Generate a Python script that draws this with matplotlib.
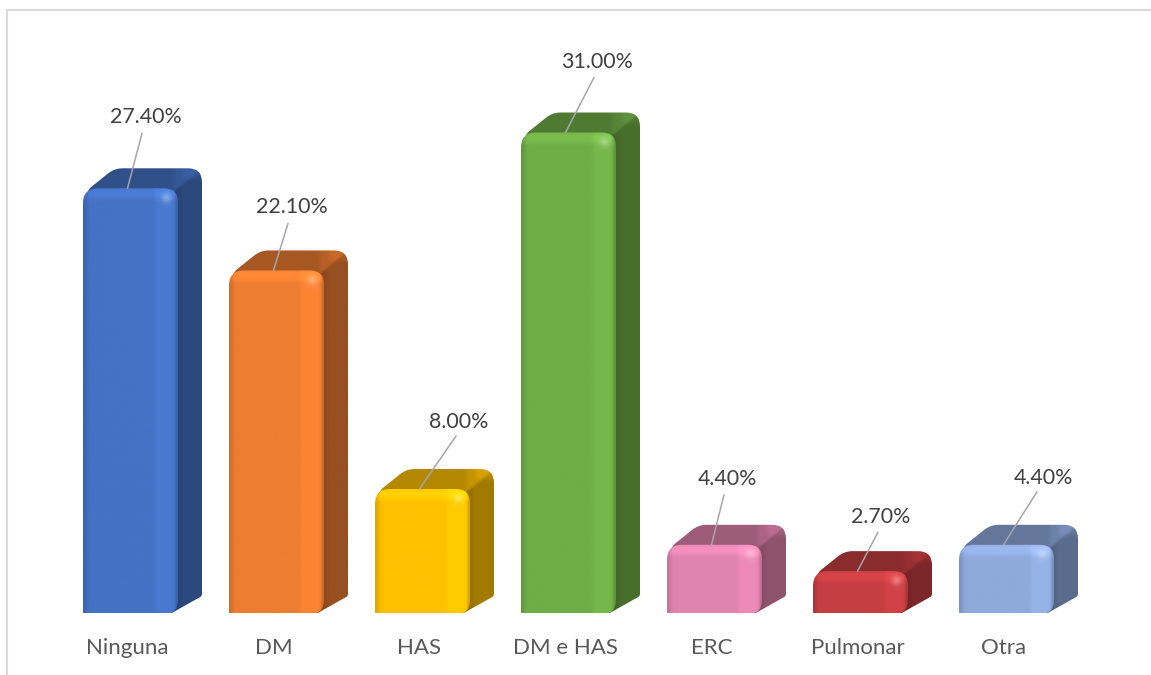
# -*- coding: utf-8 -*-
import numpy as np
import matplotlib
matplotlib.use('Agg')
import matplotlib.pyplot as plt
from matplotlib.colors import to_rgb
from matplotlib.lines import Line2D
from matplotlib.path import Path

categories = ['Ninguna', 'DM', 'HAS', 'DM e HAS', 'ERC', 'Pulmonar', 'Otra']
values = [27.4, 22.1, 8.0, 31.0, 4.4, 2.7, 4.4]
colors = ['#4472C4', '#ED7D31', '#FFC000', '#70AD47', '#E083AE', '#C43E42', '#8EA9DB']

# label position and leader line end, in pixels from the middle of the bar top
label_offsets = [(15.5, 71), (15.5, 63), (36.5, 67), (28.5, 70), (12.5, 66), (20.5, 54), (36.5, 67)]
line_ends = [(14.5, 55), (14.5, 47), (36.5, 53), (28.5, 55), (12.5, 50), (20.5, 39), (33.5, 53)]

W, H = 1151, 675
BASE = 613        # pixel row of value 0
PX_VAL = 15.5     # pixels per percentage point
PX_CAT = 146.0    # pixels per category
X0 = 130.5        # pixel column of first category
HALF = 47.5       # half width of the front face
DX, DY = 24, 20   # depth of the box


def rounded_path(pts, radii):
    # closed polygon with rounded corners, in pixels
    verts, codes = [], []
    n = len(pts)
    for k in range(n):
        p = np.array(pts[k], float)
        a = np.array(pts[k - 1], float)
        b = np.array(pts[(k + 1) % n], float)
        r = radii[k]
        u = (a - p) / np.linalg.norm(a - p)
        v = (b - p) / np.linalg.norm(b - p)
        verts += [p + u * r, p, p + v * r]
        codes += [Path.LINETO if k else Path.MOVETO, Path.CURVE3, Path.CURVE3]
    verts.append(verts[0])
    codes.append(Path.CLOSEPOLY)
    return np.array(verts), codes


def smooth(t):
    t = np.clip(t, 0, 1)
    return t * t * (3 - 2 * t)


def front_shade(x, y, h):
    # x from -HALF to HALF, y from 0 to h
    f = np.ones_like(x)
    f *= 0.88 + 0.12 * smooth((x + HALF) / 7)
    f *= 1 + 0.06 * smooth((x - (HALF - 26)) / 6) * (1 - smooth((x - (HALF - 7)) / 7))
    f *= 0.85 + 0.15 * smooth((HALF - x) / 4)
    f *= 1 + 0.09 * smooth((y - (h - 14)) / 8) * (1 - 0.35 * smooth((y - (h - 3)) / 3))
    spot = np.exp(-(((x - (HALF - 11)) / 5) ** 2 + ((y - (h - 9)) / 5) ** 2))
    return f, spot


def back_shade(x, y, h):
    # top face lighter than the side face
    d = (x - HALF) - (y - h) * DX / DY
    s = smooth((d + 3) / 6)
    f = 0.77 + (0.64 - 0.77) * s
    f = f + 0.07 * smooth((x - (HALF + 2)) / 8) * smooth((y - (h + 6)) / 8)
    f = f * (0.92 + 0.08 * smooth((x - HALF) / 7 + (1 - s)))
    return f


fig = plt.figure(figsize=(W / 100, H / 100), dpi=100)
ax = fig.add_axes([0, (H - BASE) / H, 1, BASE / H])
ax.set_facecolor('none')
fig.patch.set_facecolor('white')

for i, (val, col) in enumerate(zip(values, colors)):
    rgb = np.array(to_rgb(col))
    h = val * PX_VAL
    to_data = np.array([1 / PX_CAT, 1 / PX_VAL])

    # top and side faces behind the front one
    pts = [(HALF - 8, -1), (HALF + DX, DY - 3), (HALF + DX, h + DY), (-16, h + DY),
           (-41, h), (-HALF + 1, h - 10)]
    rad = [3, 2, 14, 8, 2, 1]
    verts, codes = rounded_path(pts, rad)
    path = Path(verts * to_data + [i, 0], codes)
    xs = np.arange(-HALF, HALF + DX + 1, 1.0)
    ys = np.arange(-2, h + DY + 2, 1.0)
    xx, yy = np.meshgrid(xs, ys)
    shade = back_shade(xx, yy, h)
    img = np.clip(rgb[None, None, :] * shade[:, :, None], 0, 1)
    im = ax.imshow(img, origin='lower', aspect='auto', interpolation='bilinear', zorder=2,
                   extent=[i + xs[0] / PX_CAT, i + xs[-1] / PX_CAT, ys[0] / PX_VAL, ys[-1] / PX_VAL])
    im.set_clip_path(path, ax.transData)

    # front face
    pts = [(-HALF, -1), (HALF, -1), (HALF, h), (-HALF, h)]
    rad = [2, 14, 14, 15]
    verts, codes = rounded_path(pts, rad)
    path = Path(verts * to_data + [i, 0], codes)
    xs = np.arange(-HALF, HALF + 1, 1.0)
    ys = np.arange(-2, h + 2, 1.0)
    xx, yy = np.meshgrid(xs, ys)
    f, spot = front_shade(xx, yy, h)
    img = rgb[None, None, :] * f[:, :, None]
    img = img + (np.array([1, 1, 1]) - img) * 0.3 * spot[:, :, None]
    img = np.clip(img, 0, 1)
    im = ax.imshow(img, origin='lower', aspect='auto', interpolation='bilinear', zorder=3,
                   extent=[i + xs[0] / PX_CAT, i + xs[-1] / PX_CAT, ys[0] / PX_VAL, ys[-1] / PX_VAL])
    im.set_clip_path(path, ax.transData)

    # leader line and value label
    ex, ey = line_ends[i]
    ax.annotate('', xy=(i - 3 / PX_CAT, val), xytext=(ex, ey), textcoords='offset pixels',
                arrowprops=dict(arrowstyle='-', color='#A6A6A6', lw=1.1, shrinkA=0, shrinkB=0), zorder=4)
    lx, ly = label_offsets[i]
    ax.annotate(f'{val:.2f}%', xy=(i, val), xytext=(lx, ly), textcoords='offset pixels',
                ha='center', va='center', color='#404040', fontsize=15.4, family='Lato', zorder=5)

ax.set_xlim(-X0 / PX_CAT, (W - X0) / PX_CAT)
ax.set_ylim(0, BASE / PX_VAL)
ax.set_xticks([k - 3 / PX_CAT for k in range(len(categories))])
ax.set_xticklabels(categories, family='Lato', fontsize=16, color='#595959')
ax.tick_params(axis='x', length=0, pad=18)
ax.set_yticks([])
for s in ax.spines.values():
    s.set_visible(False)

# outer frame of the chart, top and left only
fig.add_artist(Line2D([6.5 / W, 6.5 / W], [0, 1 - 9.5 / H], color='#D9D9D9', lw=1.5))
fig.add_artist(Line2D([6.5 / W, 1], [1 - 9.5 / H, 1 - 9.5 / H], color='#D9D9D9', lw=1.5))

fig.savefig('out.png', dpi=100)
